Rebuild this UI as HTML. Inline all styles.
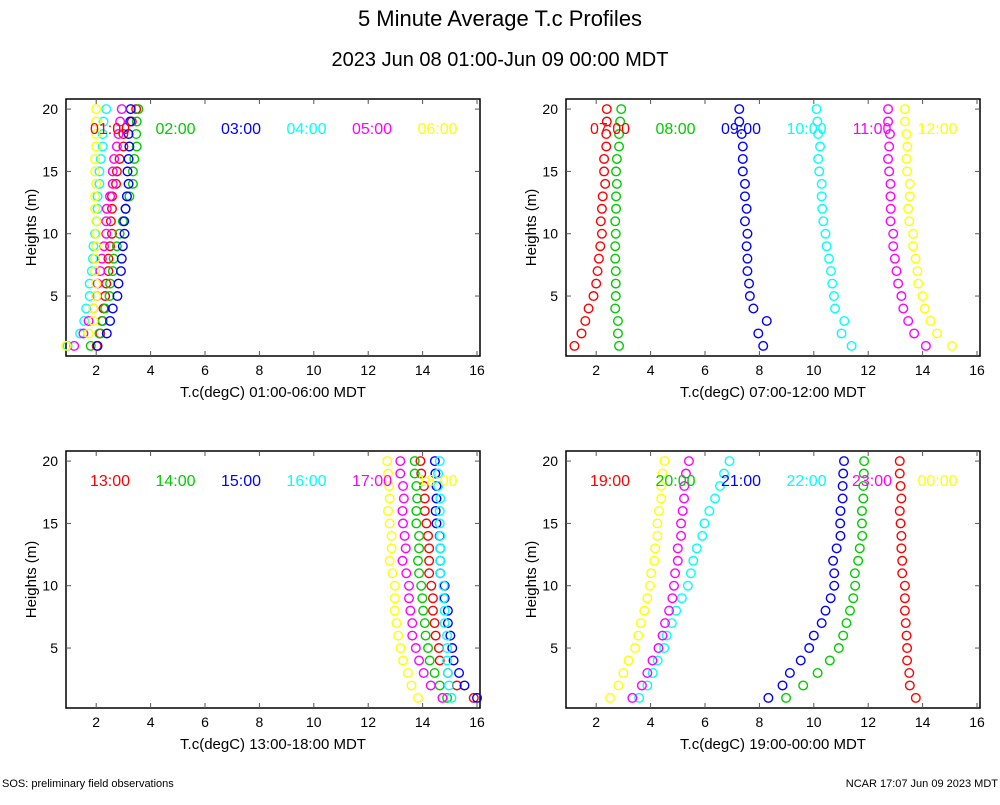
<!DOCTYPE html>
<html><head><meta charset="utf-8"><style>
body{margin:0;background:#fff;font-family:"Liberation Sans",sans-serif;}
svg text{font-family:"Liberation Sans",sans-serif;}
</style></head><body>
<svg id="chart" width="1000" height="800" viewBox="0 0 1000 800" xmlns="http://www.w3.org/2000/svg">
<rect width="1000" height="800" fill="#fff"/>
<text x="500" y="26" font-size="22" text-anchor="middle">5 Minute Average T.c Profiles</text>
<text x="500" y="66" font-size="20" text-anchor="middle">2023 Jun 08 01:00-Jun 09 00:00 MDT</text>
<text x="2" y="787" font-size="11">SOS: preliminary field observations</text>
<text x="998" y="787" font-size="11" text-anchor="end">NCAR 17:07 Jun 09 2023 MDT</text>
</svg>
<script>
const heights=[1,2,3,4,5,6,7,8,9,10,11,12,13,14,15,16,17,18,19,20];
const xTicks=[2,4,6,8,10,12,14,16];
const yTicks=[5,10,15,20];
const colors=["#ff0000","#00cc00","#0000ff","#00ffff","#ff00ff","#ffff00"];
const panelTitles=["T.c(degC) 01:00-06:00 MDT","T.c(degC) 07:00-12:00 MDT","T.c(degC) 13:00-18:00 MDT","T.c(degC) 19:00-00:00 MDT"];
const panelHours=[["01:00","02:00","03:00","04:00","05:00","06:00"],["07:00","08:00","09:00","10:00","11:00","12:00"],["13:00","14:00","15:00","16:00","17:00","18:00"],["19:00","20:00","21:00","22:00","23:00","00:00"]];
const p1s1=[2.02,2.15,2.21,2.27,2.33,2.37,2.45,2.45,2.51,2.58,2.54,2.58,2.58,2.73,2.76,2.86,3.0,3.0,3.31,3.47];
const p1s2=[1.80,2.12,2.24,2.33,2.49,2.51,2.61,2.64,2.76,2.86,2.98,3.08,3.22,3.35,3.35,3.40,3.49,3.47,3.49,3.55];
const p1s3=[2.05,2.39,2.51,2.61,2.78,2.82,2.91,2.94,2.98,3.04,3.03,3.08,3.13,3.19,3.15,3.19,3.22,3.19,3.25,3.27];
const p1s4=[0.95,1.41,1.56,1.63,1.76,1.76,1.84,1.88,1.90,1.96,2.02,2.05,2.05,2.12,2.12,2.17,2.24,2.24,2.27,2.37];
const p1s5=[1.19,1.53,1.72,1.90,2.02,2.05,2.15,2.21,2.29,2.37,2.37,2.39,2.51,2.61,2.61,2.66,2.76,2.82,2.88,2.94];
const p1s6=[0.90,1.72,1.90,1.90,2.0,2.0,1.96,1.96,2.0,2.0,2.0,1.96,1.96,2.0,1.96,1.96,2.0,2.0,2.0,2.0];
const p2s1=[1.20,1.46,1.60,1.72,1.90,2.0,2.05,2.10,2.15,2.21,2.17,2.21,2.24,2.33,2.29,2.29,2.37,2.37,2.39,2.39];
const p2s2=[2.84,2.80,2.80,2.70,2.72,2.72,2.72,2.70,2.70,2.72,2.70,2.73,2.73,2.76,2.73,2.76,2.84,2.84,2.88,2.92];
const p2s3=[8.14,7.96,8.27,7.78,7.65,7.62,7.56,7.56,7.53,7.56,7.47,7.53,7.47,7.47,7.39,7.39,7.39,7.35,7.26,7.26];
const p2s4=[11.39,11.02,11.12,10.78,10.74,10.68,10.63,10.56,10.47,10.43,10.35,10.31,10.29,10.29,10.20,10.16,10.23,10.16,10.13,10.10];
const p2s5=[14.12,13.69,13.47,13.29,13.22,13.10,13.04,12.98,12.92,12.92,12.82,12.83,12.82,12.82,12.77,12.73,12.77,12.80,12.73,12.73];
const p2s6=[15.08,14.53,14.29,14.08,14.0,13.84,13.81,13.74,13.65,13.65,13.51,13.47,13.53,13.53,13.43,13.41,13.44,13.41,13.35,13.35];
const p3s1=[15.88,15.26,14.93,14.63,14.60,14.48,14.44,14.38,14.38,14.32,14.24,14.24,14.24,14.20,14.14,14.08,14.08,14.05,13.95,13.92];
const p3s2=[14.90,14.63,14.44,14.26,14.20,14.11,14.08,14.02,13.99,13.95,13.87,13.83,13.87,13.87,13.77,13.77,13.80,13.77,13.71,13.71];
const p3s3=[16.0,15.54,15.34,15.14,15.09,15.02,14.93,14.93,14.81,14.81,14.65,14.65,14.65,14.63,14.51,14.48,14.51,14.51,14.47,14.45];
const p3s4=[15.06,14.97,14.93,14.90,14.90,14.90,14.81,14.81,14.77,14.77,14.65,14.65,14.65,14.65,14.63,14.63,14.65,14.57,14.57,14.63];
const p3s5=[14.73,14.30,14.04,13.87,13.75,13.62,13.62,13.55,13.50,13.50,13.40,13.26,13.38,13.34,13.28,13.26,13.31,13.28,13.18,13.18];
const p3s6=[13.83,13.59,13.46,13.28,13.19,13.10,13.04,12.98,12.98,12.98,12.89,12.79,12.86,12.86,12.79,12.73,12.79,12.77,12.73,12.70];
const p4s1=[13.75,13.53,13.51,13.43,13.43,13.41,13.38,13.35,13.35,13.35,13.25,13.25,13.22,13.22,13.19,13.16,13.22,13.19,13.16,13.16];
const p4s2=[8.98,9.61,10.14,10.59,10.92,11.08,11.20,11.33,11.45,11.52,11.51,11.63,11.69,11.78,11.77,11.77,11.82,11.82,11.84,11.85];
const p4s3=[8.33,8.85,9.12,9.52,9.83,10.0,10.29,10.43,10.62,10.75,10.75,10.71,10.84,10.98,10.97,10.98,11.06,11.06,11.08,11.11];
const p4s4=[3.58,3.88,4.08,4.26,4.50,4.59,4.78,4.94,5.15,5.37,5.48,5.57,5.70,5.90,5.98,6.16,6.37,6.55,6.70,6.90];
const p4s5=[3.33,3.68,3.88,4.07,4.29,4.44,4.53,4.68,4.80,4.86,4.90,5.0,5.0,5.12,5.12,5.18,5.23,5.24,5.30,5.41];
const p4s6=[2.51,2.82,3.00,3.19,3.43,3.55,3.64,3.77,3.88,3.98,4.02,4.14,4.17,4.25,4.25,4.31,4.39,4.39,4.44,4.51];
const panelSeries=[[p1s1,p1s2,p1s3,p1s4,p1s5,p1s6],[p2s1,p2s2,p2s3,p2s4,p2s5,p2s6],[p3s1,p3s2,p3s3,p3s4,p3s5,p3s6],[p4s1,p4s2,p4s3,p4s4,p4s5,p4s6]];

const NS="http://www.w3.org/2000/svg";
const svg=document.getElementById('chart');
const XMIN=0.89,XMAX=16.11,YMIN=0.19,YMAX=20.81;
const offsets=[[0,0],[500,0],[0,352],[500,352]];
function mk(tag,attrs,parent){const e=document.createElementNS(NS,tag);for(const k in attrs)e.setAttribute(k,attrs[k]);parent.appendChild(e);return e;}
offsets.forEach((o,pi)=>{
  const L=66+o[0],R=480+o[0],T=99+o[1],B=356+o[1];
  const sx=v=>L+(v-XMIN)/(XMAX-XMIN)*(R-L);
  const sy=v=>B-(v-YMIN)/(YMAX-YMIN)*(B-T);
  const g=mk('g',{},svg);
  
  
  const fr=mk('rect',{x:L,y:T,width:R-L,height:B-T,fill:'none',stroke:'#000','stroke-width':1.5},g);
  
  
  xTicks.forEach(t=>{
    const x=sx(t);
    mk('line',{x1:x,y1:B,x2:x,y2:B-5,stroke:'#555'},g);
    mk('line',{x1:x,y1:T,x2:x,y2:T+5,stroke:'#555'},g);
    const tx=mk('text',{x:x,y:B+19,'font-size':14,'text-anchor':'middle'},g);
    tx.textContent=t;
    
    
  });
  yTicks.forEach(t=>{
    const y=sy(t);
    mk('line',{x1:L,y1:y,x2:L+5,y2:y,stroke:'#555'},g);
    mk('line',{x1:R,y1:y,x2:R-5,y2:y,stroke:'#555'},g);
    const tx=mk('text',{x:L-8,y:y+5,'font-size':14,'text-anchor':'end'},g);
    tx.textContent=t;
    
    
  });
  const xt=mk('text',{x:(L+R)/2,y:B+41,'font-size':15,'text-anchor':'middle'},g);
  xt.textContent=panelTitles[pi];
  
  
  const yt=mk('text',{x:0,y:0,'font-size':15,'text-anchor':'middle',transform:`translate(${L-30},${(T+B)/2}) rotate(-90)`},g);
  yt.textContent='Heights (m)';
  
  
  panelSeries[pi].forEach((ser,si)=>{
    ser.forEach((v,i)=>{
      const c=mk('circle',{cx:sx(v),cy:sy(heights[i]),r:4.3,fill:'none',stroke:colors[si],'stroke-width':1.4},g);
      
      
    });
  });
  panelHours[pi].forEach((h,si)=>{
    const lt=mk('text',{x:L+44+si*65.5,y:T+35,'font-size':16,'text-anchor':'middle',fill:colors[si]},g);
    lt.textContent=h;
    
    
  });
});
</script>
</body></html>
